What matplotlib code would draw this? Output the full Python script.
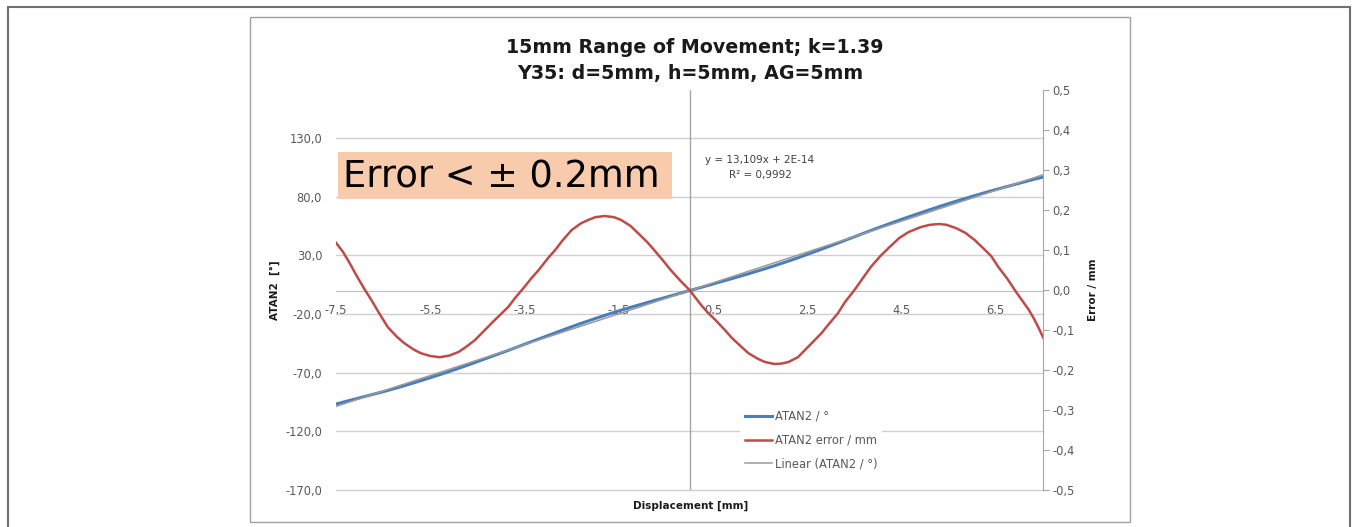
import numpy as np
import matplotlib
matplotlib.use("Agg")
import matplotlib.pyplot as plt
from matplotlib.patches import Rectangle

# displacement [mm]
disp = [-7.5, -7.35, -7.2, -7.05, -6.9, -6.75, -6.6, -6.4, -6.2, -6.05,
        -5.85, -5.7, -5.5, -5.3, -5.1, -4.9, -4.75, -4.55, -4.4, -4.2,
        -4.0, -3.85, -3.7, -3.5, -3.35, -3.2, -3.0, -2.85, -2.7, -2.5,
        -2.3, -2.15, -2.0, -1.8, -1.6, -1.45, -1.25, -1.1, -0.9, -0.75,
        -0.55, -0.4, -0.2, 0.0, 0.25, 0.4, 0.55, 0.75, 0.9, 1.1,
        1.25, 1.45, 1.6, 1.8, 1.95, 2.1, 2.3, 2.45, 2.6, 2.8,
        2.95, 3.15, 3.3, 3.5, 3.65, 3.85, 4.05, 4.25, 4.45, 4.65,
        4.9, 5.1, 5.3, 5.45, 5.65, 5.85, 6.05, 6.2, 6.4, 6.55,
        6.75, 6.9, 7.05, 7.2, 7.3, 7.4, 7.5]
# ATAN2 error / mm (right axis)
err_mm = [0.118, 0.095, 0.065, 0.033, 0.003, -0.025, -0.055, -0.093, -0.118, -0.133,
          -0.149, -0.158, -0.165, -0.168, -0.164, -0.155, -0.143, -0.125, -0.107, -0.083,
          -0.06, -0.043, -0.02, 0.008, 0.03, 0.05, 0.08, 0.10, 0.123, 0.15,
          0.167, 0.175, 0.182, 0.185, 0.182, 0.175, 0.16, 0.143, 0.12, 0.10,
          0.072, 0.05, 0.024, 0.0, -0.038, -0.058, -0.075, -0.1, -0.12, -0.142,
          -0.158, -0.172, -0.18, -0.185, -0.184, -0.18, -0.168, -0.15, -0.132, -0.108,
          -0.086, -0.058, -0.03, 0.0, 0.025, 0.058, 0.085, 0.108, 0.13, 0.145,
          0.157, 0.163, 0.165, 0.163, 0.155, 0.143, 0.125, 0.108, 0.085, 0.058,
          0.027, 0.0, -0.025, -0.05, -0.07, -0.093, -0.118]
# ATAN2 / deg (left axis)
atan2_deg = [-96.77, -95.11, -93.53, -91.99, -90.41, -88.81, -87.24, -85.12, -82.82, -81.05,
             -78.64, -76.79, -74.26, -71.68, -69.01, -66.27, -64.14, -61.28, -59.08, -56.15,
             -53.22, -51.03, -48.77, -45.78, -43.52, -41.29, -38.28, -36.05, -33.78, -30.81,
             -27.96, -25.89, -23.83, -21.17, -18.59, -16.71, -14.29, -12.55, -10.23, -8.52,
             -6.27, -4.59, -2.31, 0.0, 2.78, 4.48, 6.23, 8.52, 10.23, 12.56,
             14.31, 16.75, 18.61, 21.17, 23.15, 25.17, 27.95, 30.15, 32.35, 35.29,
             37.54, 40.53, 42.87, 45.88, 48.18, 51.23, 54.21, 57.13, 60.04, 62.86,
             66.29, 68.99, 71.64, 73.58, 76.10, 78.56, 80.95, 82.69, 85.01, 86.62,
             88.84, 90.45, 92.09, 93.73, 94.78, 95.79, 96.77]

left_ticks = [-170, -120, -70, -20, 30, 80, 130]
right_ticks = [-0.5, -0.4, -0.3, -0.2, -0.1, 0.0, 0.1, 0.2, 0.3, 0.4, 0.5]
x_ticks = [-7.5, -5.5, -3.5, -1.5, 0.5, 2.5, 4.5, 6.5]

W, H = 1358, 527


def fx(px):
    return px / W


def fy(py):
    return 1 - py / H


def comma(v, nd):
    return f"{v:.{nd}f}".replace(".", ",")


tick_col = "#595959"
grid_col = "#D0D0D0"
title_col = "#1A1A1A"

fig = plt.figure(figsize=(W / 100, H / 100), dpi=100)

# outer frame and chart frame
fig.patches.append(Rectangle((fx(8), fy(530)), fx(1350) - fx(8), fy(7) - fy(530),
                             transform=fig.transFigure, fill=False, ec="#707070", lw=1.5))
fig.patches.append(Rectangle((fx(250), fy(522)), fx(1130) - fx(250), fy(17) - fy(522),
                             transform=fig.transFigure, fill=False, ec="#A0A0A0", lw=1))

ax = fig.add_axes([fx(336), fy(490), fx(1043) - fx(336), fy(90) - fy(490)])
ax.set_xlim(-7.5, 7.5)
ax.set_ylim(-170, 171)
ax.set_yticks(left_ticks)
ax.set_yticklabels([comma(v, 1) for v in left_ticks])
ax.set_xticks(x_ticks)
ax.set_xticklabels([comma(v, 1) for v in x_ticks])
ax.grid(axis="y", color=grid_col, lw=1)
for gl in ax.get_ygridlines():
    gl.set_clip_on(False)
ax.set_axisbelow(True)
for s in ["top", "right", "left"]:
    ax.spines[s].set_visible(False)
ax.spines["bottom"].set_position(("data", 0))
ax.spines["bottom"].set_color("#BEBEBE")
ax.tick_params(axis="x", length=0, pad=10, labelsize=8.3, labelcolor=tick_col)
ax.tick_params(axis="y", length=0, pad=10, labelsize=8.3, labelcolor=tick_col)
ax.axvline(0, color="#A6A6A6", lw=1, zorder=1)

blue, = ax.plot(disp, atan2_deg, color="#4A7EBB", lw=2.2, zorder=3)
coef = np.polyfit(disp, atan2_deg, 1)
xs = np.array([-7.5, 7.5])
gray, = ax.plot(xs, np.polyval(coef, xs), color="#9A9A9A", lw=1.1, zorder=4)

ax2 = ax.twinx()
ax2.set_ylim(-0.5, 0.5)
ax2.set_yticks(right_ticks)
ax2.set_yticklabels([comma(v, 1) for v in right_ticks])
for s in ["top", "left", "bottom"]:
    ax2.spines[s].set_visible(False)
ax2.spines["right"].set_color("#A6A6A6")
ax2.tick_params(axis="y", length=4, color="#A6A6A6", pad=3, labelsize=8.3, labelcolor=tick_col)
red, = ax2.plot(disp, err_mm, color="#BE4B48", lw=1.8, zorder=3)

leg = ax2.legend([blue, red, gray], ["ATAN2 / °", "ATAN2 error / mm", "Linear (ATAN2 / °)"],
                 loc="upper left", bbox_to_anchor=(fx(740), fy(405)),
                 bbox_transform=fig.transFigure, borderaxespad=0, fontsize=8.3,
                 frameon=True, fancybox=False, handlelength=2.4, handletextpad=0.2,
                 labelspacing=0.95, borderpad=0.4)
leg.get_frame().set_facecolor("white")
leg.get_frame().set_edgecolor("none")
leg.get_frame().set_alpha(1)
for t in leg.get_texts():
    t.set_color(tick_col)

# titles and axis labels
fig.text(fx(695), fy(53), "15mm Range of Movement; k=1.39", ha="center", va="baseline",
         fontsize=13.7, fontweight="bold", color=title_col)
fig.text(fx(690), fy(79), "Y35: d=5mm, h=5mm, AG=5mm", ha="center", va="baseline",
         fontsize=13.7, fontweight="bold", color=title_col)
fig.text(fx(275), fy(290), "ATAN2  [°]", rotation=90, ha="center", va="center",
         fontsize=7.5, fontweight="bold", color=title_col)
fig.text(fx(1093), fy(290), "Error / mm", rotation=90, ha="center", va="center",
         fontsize=7.5, fontweight="bold", color=title_col)
fig.text(fx(691), fy(506), "Displacement [mm]", ha="center", va="center",
         fontsize=7.5, fontweight="bold", color=title_col)

# trendline equation
fig.text(fx(760), fy(160), "y = 13,109x + 2E-14", ha="center", va="center",
         fontsize=7.5, color="#404040")
fig.text(fx(760), fy(175), "R² = 0,9992", ha="center", va="center",
         fontsize=7.5, color="#404040")

# highlighted note
fig.patches.append(Rectangle((fx(338), fy(199)), fx(672) - fx(338), fy(152) - fy(199),
                             transform=fig.transFigure, fc="#F8CBAD", ec="none", zorder=5))
fig.text(fx(343), fy(188), "Error < ± 0.2mm", ha="left", va="baseline",
         fontsize=26.5, color="black", zorder=6)

fig.savefig("out.png", dpi=100)
